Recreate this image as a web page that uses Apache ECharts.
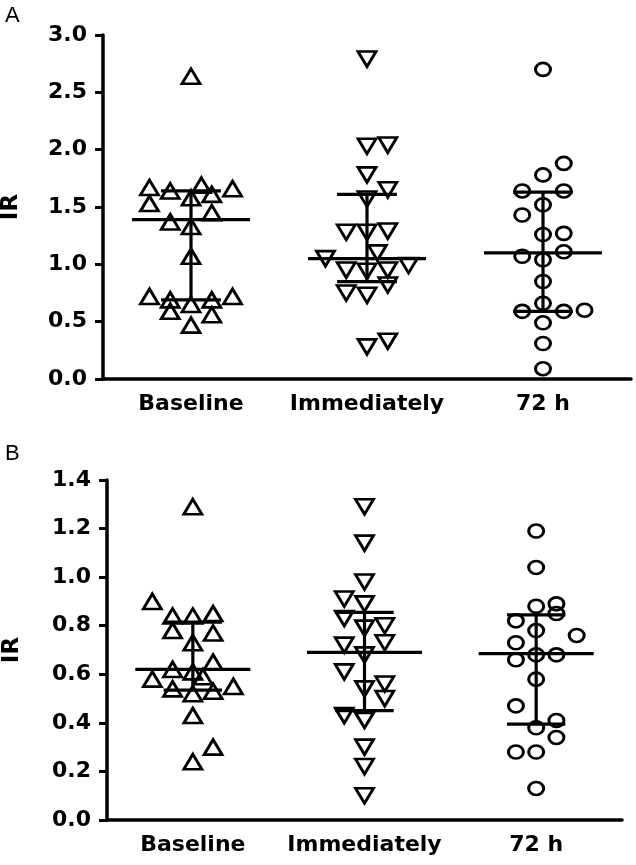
<!DOCTYPE html>
<html lang="en">
<head>
<meta charset="UTF-8">
<title>IR dot plots</title>
<script src="https://cdn.jsdelivr.net/npm/echarts@6/dist/echarts.min.js"></script>
<style>
  html, body { margin: 0; padding: 0; background: #fff; }
  #main { width: 636px; height: 865px; }
</style>
</head>
<body>
<div id="main"></div>
<script>
// categories shared by both panels
var groups = ['Baseline', 'Immediately', '72 h'];

// panel A: IR values, with the column slot each dot sits in (jitter)
var aBaseline      = [2.64, 1.69, 1.67, 1.66, 1.64, 1.61, 1.58, 1.53, 1.45, 1.37, 1.33, 1.07, 0.72, 0.72, 0.69, 0.69, 0.65, 0.59, 0.56, 0.47];
var aBaselineSlot  = [0, 0.5, -2, 2, -1, 1, 0, -2, 1, -1, 0, 0, -2, 2, -1, 1, 0, -1, 1, 0];
var aImmediate     = [2.79, 2.04, 2.03, 1.78, 1.65, 1.57, 1.29, 1.28, 1.28, 1.10, 1.05, 0.99, 0.95, 0.95, 0.94, 0.82, 0.75, 0.73, 0.33, 0.28];
var aImmediateSlot = [0, 1, 0, 0, 1, 0, 1, -1, 0, 0.5, -2, 2, -1, 1, 0, 1, -1, 0, 1, 0];
var a72h           = [2.70, 1.88, 1.78, 1.64, 1.64, 1.52, 1.43, 1.27, 1.26, 1.11, 1.07, 1.04, 0.85, 0.66, 0.60, 0.59, 0.59, 0.49, 0.31, 0.09];
var a72hSlot       = [0, 1, 0, -1, 1, 0, -1, 1, 0, 1, -1, 0, 0, 0, 2, -1, 1, 0, 0, 0];
var aMedian = [1.39, 1.05, 1.10];
var aQ1     = [0.69, 0.85, 0.59];
var aQ3     = [1.64, 1.61, 1.63];
var aTicks  = [0, 0.5, 1.0, 1.5, 2.0, 2.5, 3.0];

// panel B
var bBaseline      = [1.29, 0.90, 0.85, 0.84, 0.84, 0.78, 0.77, 0.73, 0.65, 0.62, 0.61, 0.59, 0.58, 0.55, 0.54, 0.53, 0.52, 0.43, 0.30, 0.24];
var bBaselineSlot  = [0, -2, 1, -1, 0, -1, 1, 0, 1, -1, 0, 0.5, -2, 2, -1, 1, 0, 0, 1, 0];
var bImmediate     = [1.29, 1.14, 0.98, 0.91, 0.89, 0.83, 0.80, 0.79, 0.73, 0.72, 0.68, 0.61, 0.56, 0.54, 0.50, 0.43, 0.41, 0.30, 0.22, 0.10];
var bImmediateSlot = [0, 0, 0, -1, 0, -1, 1, 0, 1, -1, 0, -1, 1, 0, 1, -1, 0, 0, 0, 0];
var b72h           = [1.19, 1.04, 0.89, 0.88, 0.85, 0.82, 0.78, 0.76, 0.73, 0.68, 0.68, 0.66, 0.58, 0.47, 0.41, 0.38, 0.34, 0.28, 0.28, 0.13];
var b72hSlot       = [0, 0, 1, 0, 1, -1, 0, 2, -1, 0, 1, -1, 0, -1, 1, 0, 1, -1, 0, 0];
var bMedian = [0.62, 0.69, 0.685];
var bQ1     = [0.535, 0.45, 0.395];
var bQ3     = [0.815, 0.855, 0.845];
var bTicks  = [0, 0.2, 0.4, 0.6, 0.8, 1.0, 1.2, 1.4];

var SLOT = 0.118; // one jitter column, in category widths
var FONT = 'DejaVu Sans';

function dots(vals, slots, g) {
    return vals.map(function (v, i) { return [g + slots[i] * SLOT, v]; });
}

function summary(med, q1, q3) {
    return med.map(function (m, i) { return [i, q1[i], m, q3[i]]; });
}

// median line + interquartile bar
function renderStats(params, api) {
    var g = api.value(0);
    var w = api.size([1, 0])[0];
    var lo = api.coord([g, api.value(1)]);
    var md = api.coord([g, api.value(2)]);
    var hi = api.coord([g, api.value(3)]);
    var mw = w * 0.335, qw = w * 0.17;
    var st = { stroke: '#000', lineWidth: 3.2 };
    return {
        type: 'group',
        children: [
            { type: 'line', shape: { x1: md[0] - mw, y1: md[1], x2: md[0] + mw, y2: md[1] }, style: st },
            { type: 'line', shape: { x1: lo[0] - qw, y1: lo[1], x2: lo[0] + qw, y2: lo[1] }, style: st },
            { type: 'line', shape: { x1: hi[0] - qw, y1: hi[1], x2: hi[0] + qw, y2: hi[1] }, style: st },
            { type: 'line', shape: { x1: md[0], y1: lo[1], x2: md[0], y2: hi[1] }, style: st }
        ]
    };
}

function catAxis(grid) {
    return {
        type: 'category', gridIndex: grid, data: groups, boundaryGap: true,
        axisLine: { onZero: false, lineStyle: { color: '#000', width: 3.5 } },
        axisTick: { alignWithLabel: true, length: 7, lineStyle: { color: '#000', width: 3 } },
        axisLabel: { interval: 0, color: '#000', fontFamily: FONT, fontWeight: 'bold', fontSize: 22, margin: 14 },
        splitLine: { show: false }
    };
}

function posAxis(grid) {
    return { type: 'value', gridIndex: grid, min: -0.5, max: 2.5, show: false };
}

function irAxis(grid, ticks, gap) {
    var step = ticks[1] - ticks[0];
    return {
        type: 'value', gridIndex: grid,
        min: ticks[0], max: ticks[ticks.length - 1], interval: step,
        name: 'IR', nameLocation: 'middle', nameGap: gap,
        nameTextStyle: { color: '#000', fontFamily: FONT, fontWeight: 'bold', fontSize: 23 },
        axisLine: { show: true, onZero: false, lineStyle: { color: '#000', width: 3.5 } },
        axisTick: { show: true, length: 8, lineStyle: { color: '#000', width: 3 } },
        axisLabel: {
            color: '#000', fontFamily: FONT, fontWeight: 'bold', fontSize: 22, margin: 16,
            formatter: function (v) { return v.toFixed(1); }
        },
        splitLine: { show: false }
    };
}

var symbols = [
    { symbol: 'triangle', size: [18, 15], rotate: 0 },
    { symbol: 'triangle', size: [18, 15], rotate: 180 },
    { symbol: 'circle', size: [15, 13], rotate: 0 }
];

function dotSeries(xi, yi, g, data) {
    var s = symbols[g];
    return {
        type: 'scatter', xAxisIndex: xi, yAxisIndex: yi, data: data,
        symbol: s.symbol, symbolSize: s.size, symbolRotate: s.rotate,
        itemStyle: { color: 'rgba(255,255,255,0)', borderColor: '#000', borderWidth: 2.8, opacity: 1 },
        silent: true, animation: false, z: 2
    };
}

var mChart = echarts.init(document.getElementById('main'), null, { renderer: 'canvas' });
var option = {
    backgroundColor: '#fff',
    animation: false,
    title: [
        { text: 'A', left: 0, top: 0, textStyle: { fontFamily: 'Liberation Sans', fontWeight: 'normal', fontSize: 22, color: '#000' } },
        { text: 'B', left: 0, top: 438, textStyle: { fontFamily: 'Liberation Sans', fontWeight: 'normal', fontSize: 22, color: '#000' } }
    ],
    grid: [
        { left: 103, right: 5, top: 35, bottom: 486, containLabel: false, outerBoundsMode: 'none' },
        { left: 107, right: 14, top: 480, bottom: 45, containLabel: false, outerBoundsMode: 'none' }
    ],
    xAxis: [catAxis(0), posAxis(0), catAxis(1), posAxis(1)],
    yAxis: [irAxis(0, aTicks, 80), irAxis(1, bTicks, 83)],
    series: [
        dotSeries(1, 0, 0, dots(aBaseline, aBaselineSlot, 0)),
        dotSeries(1, 0, 1, dots(aImmediate, aImmediateSlot, 1)),
        dotSeries(1, 0, 2, dots(a72h, a72hSlot, 2)),
        dotSeries(3, 1, 0, dots(bBaseline, bBaselineSlot, 0)),
        dotSeries(3, 1, 1, dots(bImmediate, bImmediateSlot, 1)),
        dotSeries(3, 1, 2, dots(b72h, b72hSlot, 2)),
        { type: 'custom', xAxisIndex: 1, yAxisIndex: 0, data: summary(aMedian, aQ1, aQ3), renderItem: renderStats, silent: true, z: 3 },
        { type: 'custom', xAxisIndex: 3, yAxisIndex: 1, data: summary(bMedian, bQ1, bQ3), renderItem: renderStats, silent: true, z: 3 }
    ]
};
mChart.setOption(option);
</script>
</body>
</html>
